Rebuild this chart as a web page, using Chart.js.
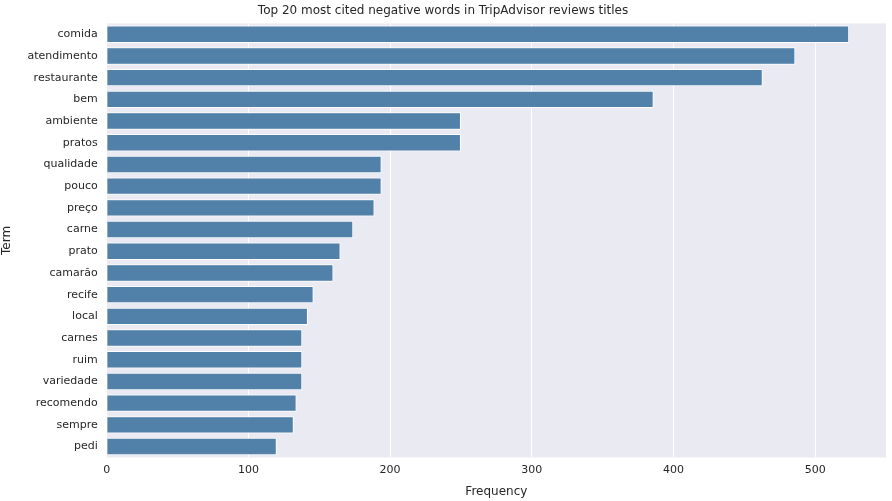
<!DOCTYPE html>
<html><head><meta charset="utf-8">
<script src="https://cdn.jsdelivr.net/npm/chart.js@4"></script>
<style>html,body{margin:0;padding:0;background:#fff}#w{width:892px;height:501px}</style>
</head><body><div id="w"><canvas id="c"></canvas></div>
<script>
const terms=["comida","atendimento","restaurante","bem","ambiente","pratos","qualidade","pouco","preço","carne","prato","camarão","recife","local","carnes","ruim","variedade","recomendo","sempre","pedi"];
const freqs=[524,486,463,386,250,250,194,194,189,174,165,160,146,142,138,138,138,134,132,120];
const xTicks=[0,100,200,300,400,500];
const bg={id:'bg',beforeDraw(ch){const a=ch.chartArea,c=ch.ctx;c.save();c.fillStyle='#EAEAF2';c.fillRect(a.left,a.top,a.right-a.left,a.bottom-a.top);c.restore();}};
new Chart(document.getElementById('c'),{type:'bar',
data:{labels:terms,datasets:[{data:freqs,backgroundColor:'#5181A9',borderColor:'#fff',borderWidth:1,categoryPercentage:1,barPercentage:0.8}]},
options:{indexAxis:'y',responsive:true,maintainAspectRatio:false,animation:false,
layout:{padding:{left:0,right:6,top:0,bottom:2}},
plugins:{legend:{display:false},tooltip:{enabled:false},
title:{display:true,text:'Top 20 most cited negative words in TripAdvisor reviews titles',color:'#262626',font:{family:'DejaVu Sans',size:12,weight:'normal'},padding:{top:4,bottom:5}}},
scales:{x:{min:0,max:550,afterBuildTicks(s){s.ticks=xTicks.map(v=>({value:v}));},
grid:{color:'#fff',lineWidth:1,drawTicks:false},border:{display:false},
ticks:{color:'#262626',font:{family:'DejaVu Sans',size:11},padding:6},
title:{display:true,text:'Frequency',color:'#262626',font:{family:'DejaVu Sans',size:12},padding:{top:2,bottom:0}}},
y:{grid:{display:false,drawTicks:false},border:{display:false},
ticks:{color:'#262626',font:{family:'DejaVu Sans',size:11},padding:9},
title:{display:true,text:'Term',color:'#262626',font:{family:'DejaVu Sans',size:12},padding:{top:0,bottom:4}}}}},
plugins:[bg]});
</script></body></html>
